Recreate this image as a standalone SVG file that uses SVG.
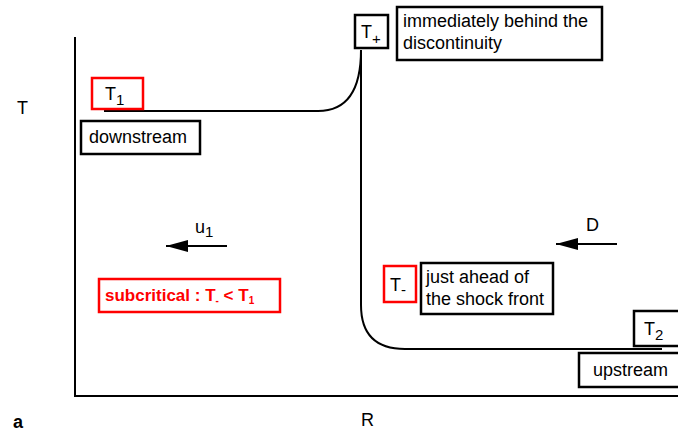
<svg xmlns="http://www.w3.org/2000/svg" width="678" height="432" viewBox="0 0 678 432">
<defs>
<style>
text{font-family:"Liberation Sans",Arial,sans-serif;font-size:18px;fill:#000}
.box{fill:#fff;stroke:#000;stroke-width:2.5}
.rbox{fill:#fff;stroke:#f00;stroke-width:2.5}
.ln{fill:none;stroke:#000;stroke-width:2}
.sub{font-size:15px}
</style>
<marker id="ah" markerWidth="22" markerHeight="12" refX="22" refY="6" orient="auto" markerUnits="userSpaceOnUse">
<path d="M0,0 L22,6 L0,12 z" fill="#000"/>
</marker>
</defs>
<rect width="678" height="432" fill="#fff"/>
<g id="axes">
<path class="ln" d="M75,37 V396 H678"/>
<text x="17" y="114">T</text>
<text x="361" y="426">R</text>
<text x="13" y="428" style="font-weight:bold">a</text>
</g>
<g id="connectors">
<path class="ln" d="M104,111 H318 Q361,111 361,50 V305 Q361,349 405,349 H662"/>
<path class="ln" d="M227,246 H166" marker-end="url(#ah)"/>
<path class="ln" d="M617,244 H556" marker-end="url(#ah)"/>
<text x="195" y="233">u<tspan class="sub" dy="4">1</tspan></text>
<text x="586" y="231">D</text>
</g>
<g id="T1">
<rect class="rbox" x="92" y="78" width="51" height="31"/>
<text x="105" y="100">T<tspan class="sub" dy="5">1</tspan></text>
</g>
<g id="downstream">
<rect class="box" x="81" y="121" width="119" height="33"/>
<text x="89" y="143">downstream</text>
</g>
<g id="Tplus">
<rect class="box" x="355" y="15" width="33" height="33"/>
<text x="361" y="38">T<tspan class="sub" dy="6">+</tspan></text>
</g>
<g id="behind">
<rect class="box" x="397" y="7" width="205" height="53"/>
<text x="403" y="27">immediately behind the</text>
<text x="403" y="49">discontinuity</text>
</g>
<g id="subcritical">
<rect class="rbox" x="99" y="279" width="181" height="33"/>
<text x="105" y="301" style="font-weight:bold;fill:#f00;font-size:17px">subcritical : T<tspan style="font-size:10px" dy="3">-</tspan><tspan dy="-3"> &lt; T</tspan><tspan style="font-size:10px" dy="3">1</tspan></text>
</g>
<g id="Tminus">
<rect class="rbox" x="384" y="266" width="32" height="36"/>
<text x="390" y="291">T<tspan class="sub" dy="4">-</tspan></text>
</g>
<g id="ahead">
<rect class="box" x="421" y="263" width="132" height="51"/>
<text x="426" y="283">just ahead of</text>
<text x="426" y="305">the shock front</text>
</g>
<g id="T2">
<rect class="box" x="634" y="311" width="50" height="35"/>
<text x="644" y="335">T<tspan class="sub" dy="5">2</tspan></text>
</g>
<g id="upstream">
<rect class="box" x="579" y="353" width="105" height="34"/>
<text x="593" y="376">upstream</text>
</g>
</svg>
